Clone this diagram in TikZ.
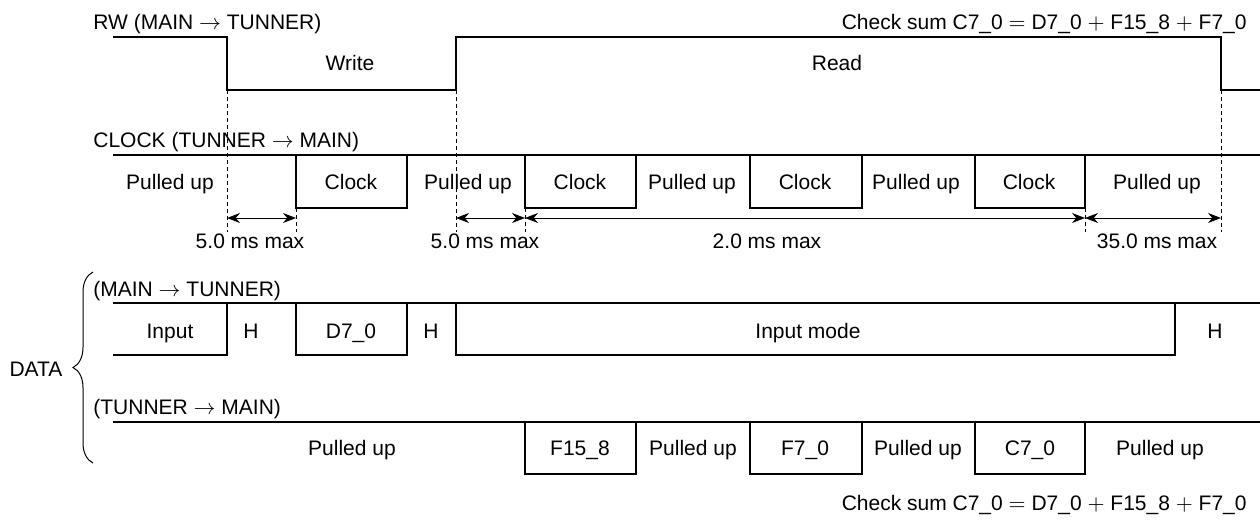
\documentclass[tikz,border=0pt]{standalone}
\usepackage{fontspec}
\setmainfont{Liberation Sans}
\usetikzlibrary{arrows.meta,decorations.pathreplacing}

\begin{document}
\begin{tikzpicture}[x=0.5pt,y=-0.5pt,font=\fontsize{10.5}{12.6}\selectfont,
    wave/.style={line width=0.9pt},
    guide/.style={line width=0.5pt, dash pattern=on 2pt off 1.5pt},
    dim/.style={{Stealth[length=6.5pt,width=5pt]}-{Stealth[length=6.5pt,width=5pt]}, line width=0.5pt},
    txt/.style={inner sep=0pt, text height=7.5pt, text depth=0pt}]
\useasboundingbox (0,0) rectangle (1260,520);

% signal names
\node[txt, anchor=west] (rw) at (93,22) {RW (MAIN $\rightarrow$ TUNNER)};
\node[txt, anchor=west] (clk) at (93,140) {CLOCK (TUNNER $\rightarrow$ MAIN)};
\node[txt, anchor=west] (dout) at (93,289) {(MAIN $\rightarrow$ TUNNER)};
\node[txt, anchor=west] (din) at (93,407) {(TUNNER $\rightarrow$ MAIN)};
\node[txt] (data) at (36,369) {DATA};
\node[txt, anchor=east] (sumtop) at (1247,22) {Check sum C7\_0 $=$ D7\_0 $+$ F15\_8 $+$ F7\_0};
\node[txt, anchor=east] (sumbot) at (1247,503) {Check sum C7\_0 $=$ D7\_0 $+$ F15\_8 $+$ F7\_0};
\draw[line width=0.5pt, decorate, decoration={brace, amplitude=10pt}] (93,463) -- (93,272);

% RW
\draw[wave] (113,37) -| (227,90) -| (456,37) -| (1221,90) -- (1260,90);
\node[txt] (write) at (350,63) {Write};
\node[txt] (read) at (837,63) {Read};

% CLOCK
\draw[wave] (113,155) -- (1260,155);
\foreach \a/\b in {296/407,525/636,750/862,975/1085}
    \draw[wave] (\a,155) |- (\b,208) -- (\b,155);
\foreach \x/\t [count=\i] in {170/Pulled up,351/Clock,468/Pulled up,580/Clock,692/Pulled up,805/Clock,916/Pulled up,1029/Clock,1157/Pulled up}
    \node[txt] (clk\i) at (\x,182) {\t};

% timing
\foreach \n/\x/\y in {e1/227/90,e2/296/208,e3/456/90,e4/525/208,e5/1085/208,e6/1221/90} {
    \coordinate (\n) at (\x,218);
    \draw[guide] (\x,\y) -- (\x,232);
}
\draw[dim] (e1) -- (e2);
\draw[dim] (e3) -- (e4);
\draw[dim] (e4) -- (e5);
\draw[dim] (e5) -- (e6);
\foreach \x/\t [count=\i] in {250/5.0 ms max,485/5.0 ms max,767/2.0 ms max,1157/35.0 ms max}
    \node[txt] (max\i) at (\x,241) {\t};

% DATA main -> tunner
\draw[wave] (113,303) -- (1260,303);
\draw[wave] (113,355) -| (227,303);
\foreach \a/\b in {296/407,456/1175}
    \draw[wave] (\a,303) |- (\b,355) -- (\b,303);
\foreach \x/\t [count=\i] in {170/Input,251/H,351/{D7\_0},431/H,808/Input mode,1215/H}
    \node[txt] (out\i) at (\x,331) {\t};

% DATA tunner -> main
\draw[wave] (113,422) -- (1260,422);
\foreach \a/\b in {525/636,750/862,975/1085}
    \draw[wave] (\a,422) |- (\b,474) -- (\b,422);
\foreach \x/\t [count=\i] in {352/Pulled up,580/{F15\_8},693/Pulled up,805/{F7\_0},918/Pulled up,1030/{C7\_0},1160/Pulled up}
    \node[txt] (in\i) at (\x,448) {\t};
\end{tikzpicture}
\end{document}
